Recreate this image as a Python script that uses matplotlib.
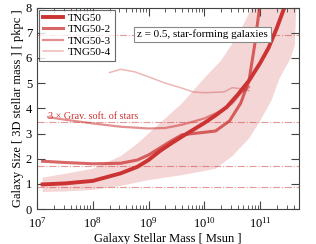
import numpy as np
import matplotlib
matplotlib.use("Agg")
import matplotlib.pyplot as plt

plt.rcParams['font.family'] = ['Liberation Serif', 'DejaVu Serif']
plt.rcParams['mathtext.fontset'] = 'stix'

# TNG50 median and band (log10 stellar mass, size in pkpc)
m1 = [7.1, 7.5, 8.0, 8.5, 8.8, 9.0, 9.2, 9.4, 9.6, 9.8, 10.0, 10.2, 10.4, 10.6, 10.8, 11.0, 11.15, 11.3, 11.45]
r1 = [0.98, 1.02, 1.12, 1.42, 1.68, 1.95, 2.3, 2.6, 2.88, 3.15, 3.42, 3.72, 4.05, 4.55, 5.1, 5.8, 6.4, 7.2, 8.1]
mb_lo = [7.1, 7.5, 8.0, 8.5, 9.0, 9.6, 10.2, 10.5, 10.8, 11.0, 11.2, 11.35, 11.55, 11.62, 11.65]
b_lo = [0.68, 0.7, 0.76, 0.92, 1.15, 1.35, 1.6, 2.1, 2.8, 3.5, 4.3, 5.2, 6.0, 6.5, 8.2]
mb_hi = [7.1, 7.5, 8.0, 8.5, 8.8, 9.0, 9.4, 9.6, 10.0, 10.3, 10.6, 10.9]
b_hi = [1.25, 1.4, 1.6, 2.1, 2.6, 3.0, 3.8, 4.2, 5.2, 5.9, 6.9, 8.2]

m2 = [7.1, 7.5, 8.0, 8.5, 8.8, 9.0, 9.4, 9.6, 10.0, 10.2, 10.45, 10.65, 10.8, 10.9, 11.0]
r2 = [1.9, 1.85, 1.8, 1.82, 1.95, 2.15, 2.7, 2.95, 3.05, 3.1, 3.5, 4.2, 5.1, 6.5, 8.2]

m3 = [7.2, 7.5, 8.0, 8.5, 9.0, 9.3, 9.6, 10.0, 10.3, 10.5, 10.65, 10.8]
r3 = [3.65, 3.55, 3.4, 3.27, 3.2, 3.22, 3.35, 3.6, 3.9, 4.2, 4.6, 4.85]

m4 = [8.3, 8.5, 8.75, 9.0, 9.3, 9.6, 9.8, 10.0, 10.35, 10.5, 10.65, 10.8]
r4 = [5.42, 5.55, 5.45, 5.25, 5.0, 4.8, 4.65, 4.62, 4.65, 4.82, 4.78, 4.7]

soft = [0.87, 1.73, 3.46, 6.92]
labels = ['TNG50', 'TNG50-2', 'TNG50-3', 'TNG50-4']

c = '#cc3333'
fig = plt.figure(figsize=(3.16, 2.44), dpi=100)
ax = fig.add_axes([0.117, 0.143, 0.83, 0.826])

poly_x = 10**np.concatenate([mb_lo, mb_hi[::-1]])
poly_y = np.concatenate([b_lo, b_hi[::-1]])
ax.fill(poly_x, poly_y, color=c, alpha=0.2, lw=0)

for s in soft:
    ax.axhline(s, color=c, lw=0.8, ls='-.', alpha=0.5)

ax.plot(10**np.array(m1), r1, color=c, lw=2.8, alpha=1.0, label=labels[0])
ax.plot(10**np.array(m2), r2, color=c, lw=2.2, alpha=0.75, label=labels[1])
ax.plot(10**np.array(m3), r3, color=c, lw=1.6, alpha=0.55, label=labels[2])
ax.plot(10**np.array(m4), r4, color=c, lw=1.1, alpha=0.35, label=labels[3])

ax.text(10**7.2, soft[2] + 0.02, '3 × Grav. soft. of stars', color=c, fontsize=7.3, va='bottom')
ax.text(0.88, 0.866, 'z = 0.5, star-forming galaxies', transform=ax.transAxes, fontsize=8,
        ha='right', va='center', bbox=dict(facecolor='white', edgecolor='#888888', lw=0.8, pad=2))

ax.set_xscale('log')
ax.set_xlim(1e7, 10**11.7)
ax.set_ylim(0, 8)
ax.set_yticks(range(9))
ax.set_xlabel('Galaxy Stellar Mass [ Msun ]', fontsize=9, labelpad=2)
ax.set_ylabel('Galaxy Size [ 3D stellar mass ] [ pkpc ]', fontsize=9, labelpad=1)
ax.tick_params(which='both', direction='in', top=True, right=True, labelsize=9, color='#444444')
ax.tick_params(which='major', length=6)
ax.tick_params(which='minor', length=3)
ax.tick_params(axis='x', which='major', pad=5)
for sp in ax.spines.values():
    sp.set_color('#444444')

leg = ax.legend(loc='upper left', fontsize=8, frameon=True, fancybox=False, edgecolor='#444444',
                handlelength=1.8, borderpad=0.3, labelspacing=0.15, handletextpad=0.5,
                borderaxespad=0.2)
leg.get_frame().set_linewidth(0.8)

fig.savefig('out.png', dpi=100)
